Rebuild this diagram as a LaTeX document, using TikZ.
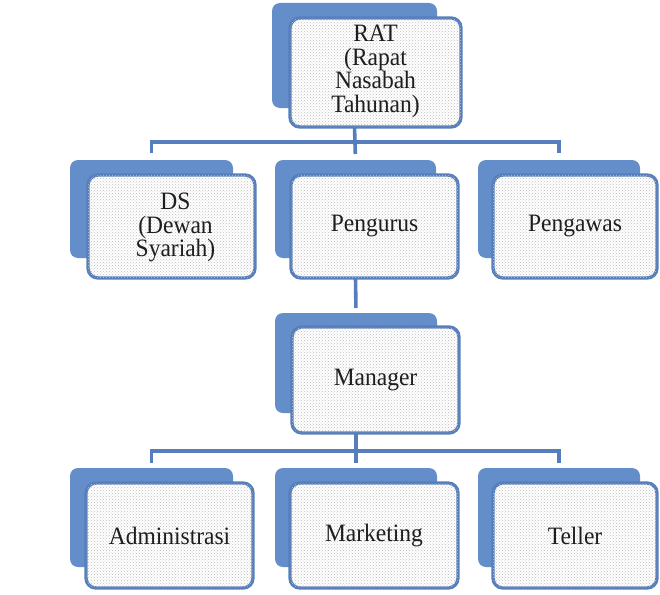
\documentclass[tikz,border=0pt]{standalone}
\usepackage{fontspec}
\setmainfont{Liberation Serif}
\newfontfamily\boxfont[FakeStretch=0.94]{Liberation Serif}
\usetikzlibrary{patterns,calc}
\definecolor{backblue}{RGB}{99,142,201}
\definecolor{lineblue}{RGB}{86,126,188}
\definecolor{txt}{RGB}{30,30,30}
\tikzset{
  geo/.style={draw=none, inner sep=0pt, outer sep=0pt, anchor=north west},
  frontbox/.style={draw=lineblue, line width=3.4pt, rounded corners=10pt, fill=white,
    postaction={pattern=crosshatch dots, pattern color=gray!50}},
  lbl/.style={text=txt, align=center, font=\boxfont\fontsize{25}{23.7}\selectfont, inner sep=0pt},
  conn/.style={draw=lineblue, line width=3.6pt}
}
\newcommand\orgunit[9]{%
  \node[geo, minimum width=#4pt-#2pt, minimum height=#5pt-#3pt] (#1b) at (#2,#3) {};
  \node[geo, minimum width=#8pt-#6pt, minimum height=#9pt-#7pt] (#1) at (#6,#7) {};
}
\begin{document}
\begin{tikzpicture}[x=1pt,y=-1pt]
\useasboundingbox (0,0) rectangle (660,594);
\orgunit{rat}{272}{3}{437}{108}{290}{18}{461}{127}
\orgunit{ds}{70}{160}{233}{258}{88}{175}{255}{278}
\orgunit{pgr}{275}{160}{436}{258}{291}{175}{458}{278}
\orgunit{pgw}{478}{160}{640}{258}{493}{175}{657}{278}
\orgunit{mgr}{275}{313}{437}{413}{292}{327}{459}{433}
\orgunit{adm}{70}{468}{233}{567}{86}{483}{253}{588}
\orgunit{mkt}{275}{468}{437}{567}{290}{483}{458}{588}
\orgunit{tel}{478}{468}{640}{567}{493}{483}{657}{588}
\coordinate (bar1) at (355,142);
\coordinate (bar2) at (355,451);
% connectors
\draw[conn, shorten >=6pt] (ratb.center |- rat.south) -- (pgrb.north);
\draw[conn, shorten <=7pt, shorten >=7pt] (dsb.north) -- (dsb.north |- bar1) -- (pgwb.north |- bar1) -- (pgwb.north);
\draw[conn, shorten >=5pt] (pgrb.center |- pgr.south) -- (mgrb.north);
\draw[conn, shorten >=5pt] (mgrb.center |- mgr.south) -- (mktb.north);
\draw[conn, shorten <=5pt, shorten >=5pt] (admb.north) -- (admb.north |- bar2) -- (telb.north |- bar2) -- (telb.north);
% boxes
\foreach \n in {rat,ds,pgr,pgw,mgr,adm,mkt,tel}{
  \fill[backblue, rounded corners=8pt] (\n b.north west) rectangle (\n b.south east);
  \path[frontbox] (\n.north west) rectangle (\n.south east);
}
% labels
\node[lbl] (ratt) at ($(rat.center)+(0,-1)$) {RAT\\(Rapat\\Nasabah\\Tahunan)};
\node[lbl] (dst) at ($(ds.center)+(4,1)$) {DS\\(Dewan\\Syariah)};
\node[lbl] (pgrt) at (pgr.center) {Pengurus};
\node[lbl] (pgwt) at (pgw.center) {Pengawas};
\node[lbl] (mgrt) at (mgr.center) {Manager};
\node[lbl] (admt) at (adm.center) {Administrasi};
\node[lbl] (mktt) at (mkt.center) {Marketing};
\node[lbl] (telt) at (tel.center) {Teller};
\end{tikzpicture}
\end{document}
